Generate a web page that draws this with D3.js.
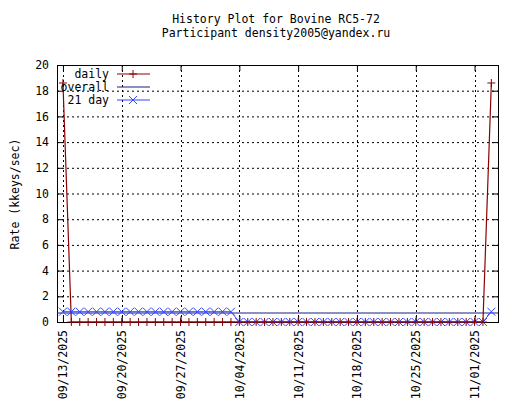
<!DOCTYPE html>
<html><head><meta charset="utf-8">
<script src="https://cdn.jsdelivr.net/npm/d3@7"></script>
<style>
body{margin:0;background:#fff}
text{font-family:"DejaVu Sans Mono",monospace;font-size:11.5px}
</style></head><body>
<svg id="c" width="520" height="400"></svg>
<script>
// data
const dailyDates = ['2025-09-13','2025-09-14','2025-09-15','2025-09-16','2025-09-17','2025-09-18','2025-09-19','2025-09-20','2025-09-21','2025-09-22','2025-09-23','2025-09-24','2025-09-25','2025-09-26','2025-09-27','2025-09-28','2025-09-29','2025-09-30','2025-10-01','2025-10-02','2025-10-03','2025-10-04','2025-10-05','2025-10-06','2025-10-07','2025-10-08','2025-10-09','2025-10-10','2025-10-11','2025-10-12','2025-10-13','2025-10-14','2025-10-15','2025-10-16','2025-10-17','2025-10-18','2025-10-19','2025-10-20','2025-10-21','2025-10-22','2025-10-23','2025-10-24','2025-10-25','2025-10-26','2025-10-27','2025-10-28','2025-10-29','2025-10-30','2025-10-31','2025-11-01','2025-11-02','2025-11-03'];
const dailyValues = [18.6,0,0,0,0,0,0,0,0,0,0,0,0,0,0,0,0,0,0,0,0,0,0,0,0,0,0,0,0,0,0,0,0,0,0,0,0,0,0,0,0,0,0,0,0,0,0,0,0,0,0,18.6];
const avg21Values = [0.8,0.8,0.8,0.8,0.8,0.8,0.8,0.8,0.8,0.8,0.8,0.8,0.8,0.8,0.8,0.8,0.8,0.8,0.8,0.8,0.8,0,0,0,0,0,0,0,0,0,0,0,0,0,0,0,0,0,0,0,0,0,0,0,0,0,0,0,0,0,0,0.8];
const overallValue = 0.7;
const xTickLabels = ['09/13/2025','09/20/2025','09/27/2025','10/04/2025','10/11/2025','10/18/2025','10/25/2025','11/01/2025'];
const yTicks = [0,2,4,6,8,10,12,14,16,18,20];

const parse = d3.timeParse('%Y-%m-%d');
const parseTick = d3.timeParse('%m/%d/%Y');
const dates = dailyDates.map(parse);

const svg = d3.select('#c');
const L = 57, R = 498, T = 65, B = 322;
const x = d3.scaleTime()
    .domain([d3.timeHour.offset(dates[0], -17), d3.timeHour.offset(dates[dates.length-1], 19)])
    .range([L, R]);
const y = d3.scaleLinear().domain([0, 20]).range([B, T]);

// grid
const grid = svg.append('g').attr('stroke', '#000').attr('stroke-dasharray', '2,3').attr('stroke-width', 1);
yTicks.slice(1, -1).forEach(v => grid.append('line').attr('x1', L).attr('x2', R).attr('y1', y(v) + .5).attr('y2', y(v) + .5));
xTickLabels.forEach(t => {
    const px = Math.round(x(parseTick(t))) + .5;
    grid.append('line').attr('x1', px).attr('x2', px).attr('y1', T).attr('y2', B);
});

// axes
svg.append('g').attr('transform', `translate(${L},0)`)
    .call(d3.axisLeft(y).tickValues(yTicks).tickSize(-6).tickPadding(8));
svg.append('g').attr('transform', `translate(${R},0)`)
    .call(d3.axisRight(y).tickValues(yTicks).tickSize(-6).tickFormat(''));
const xAxis = svg.append('g').attr('transform', `translate(0,${B})`)
    .call(d3.axisBottom(x).tickValues(xTickLabels.map(parseTick)).tickSize(-6).tickFormat(d3.timeFormat('%m/%d/%Y')));
xAxis.selectAll('text').attr('transform', 'rotate(-90)').attr('text-anchor', 'end')
    .attr('x', -8).attr('y', 0).attr('dy', '0.35em');
svg.append('g').attr('transform', `translate(0,${T})`)
    .call(d3.axisTop(x).tickValues(xTickLabels.map(parseTick)).tickSize(-6).tickFormat(''));
svg.selectAll('.domain').attr('stroke', '#000');
svg.selectAll('.tick text').attr('fill', '#000').style('font-size', '11.5px').style('font-family', '"DejaVu Sans Mono",monospace');
svg.selectAll('.tick line').attr('stroke', '#000');
svg.append('rect').attr('x', L + .5).attr('y', T + .5).attr('width', R - L).attr('height', B - T)
    .attr('fill', 'none').attr('stroke', '#000');

// series
const line = d3.line().x((d, i) => x(dates[i])).y(d => y(d));
const red = '#8b0000', blue = '#3344ff', navy = '#1a237e';
svg.append('line').attr('x1', L).attr('x2', R).attr('y1', y(overallValue)).attr('y2', y(overallValue))
    .attr('stroke', navy).attr('stroke-width', 1.2);
svg.append('path').datum(avg21Values).attr('d', line).attr('fill', 'none').attr('stroke', blue);
svg.append('path').datum(dailyValues).attr('d', line).attr('fill', 'none').attr('stroke', red).attr('stroke-width', 1.2);

const plus = (g, cx, cy, c) => g.append('path').attr('d', `M${cx-4},${cy}H${cx+4}M${cx},${cy-4}V${cy+4}`).attr('stroke', c).attr('fill', 'none');
const cross = (g, cx, cy, c) => g.append('path').attr('d', `M${cx-4},${cy-4}L${cx+4},${cy+4}M${cx-4},${cy+4}L${cx+4},${cy-4}`).attr('stroke', c).attr('fill', 'none');
const mk = svg.append('g');
avg21Values.forEach((v, i) => cross(mk, x(dates[i]), y(v), blue));
dailyValues.forEach((v, i) => plus(mk, x(dates[i]), y(v), red));

// legend
const lg = svg.append('g');
const items = [['daily', red, plus], ['overall', navy, null], ['21 day', blue, cross]];
items.forEach((it, i) => {
    const ly = 74 + i * 13;
    lg.append('text').attr('x', 109).attr('y', ly).attr('dy', '0.35em').attr('text-anchor', 'end').text(it[0]);
    lg.append('line').attr('x1', 117).attr('x2', 150).attr('y1', ly).attr('y2', ly).attr('stroke', it[1]).attr('stroke-width', 1.2);
    if (it[2]) it[2](lg, 133, ly, it[1]);
});

// titles
svg.append('text').attr('x', 276).attr('y', 23).attr('text-anchor', 'middle').text('History Plot for Bovine RC5-72');
svg.append('text').attr('x', 276).attr('y', 37).attr('text-anchor', 'middle').text('Participant density2005@yandex.ru');
svg.append('text').attr('transform', 'translate(19,194) rotate(-90)').attr('text-anchor', 'middle').text('Rate (kkeys/sec)');
</script></body></html>
